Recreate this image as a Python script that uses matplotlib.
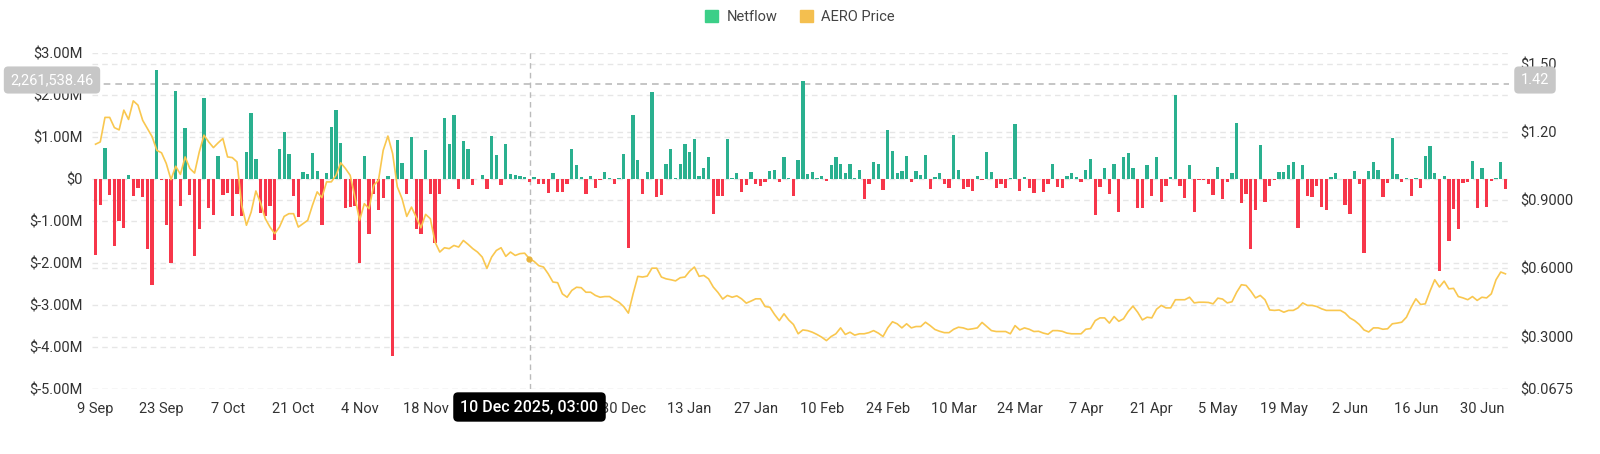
import numpy as np
import pandas as pd
import matplotlib
matplotlib.use("Agg")
import matplotlib.pyplot as plt
import matplotlib.dates as mdates
import matplotlib.transforms as mtransforms
from matplotlib.patches import Patch

# daily netflow, millions USD, starting 9 Sep 2025
netflow = [
    -1.81, -0.63, 0.74, -0.39, -1.59, -1.00, -1.17, 0.10, -0.40, -0.21,
    -0.42, -1.67, -2.52, 2.60, -0.02, -1.09, -2.00, 2.09, -0.65, 1.20,
    -0.38, -1.84, -1.19, 1.92, -0.70, -0.86, 0.54, -0.39, -0.33, -0.89,
    -0.35, -0.87, 0.63, 1.56, 0.47, -0.81, -0.89, -0.65, -1.46, 0.70,
    1.11, 0.59, -0.40, -0.91, 0.16, 0.12, 0.61, 0.18, -1.10, 0.13,
    1.23, 1.64, 0.85, -0.69, -0.66, -0.65, -2.00, 0.54, -1.31, -0.37,
    -0.74, -0.46, 0.07, -4.21, 0.93, 0.37, -0.35, 1.00, -1.20, -1.32,
    0.69, -0.36, -1.53, -0.36, 1.45, 0.82, 1.53, -0.23, 0.89, 0.72,
    -0.15, 0.00, 0.09, -0.25, 1.03, 0.56, -0.15, 0.83, 0.11, 0.10,
    0.06, 0.05, -0.08, 0.05, -0.13, -0.13, -0.33, 0.13, -0.32, -0.32,
    -0.11, 0.70, 0.32, 0.04, -0.35, 0.08, -0.21, -0.02, 0.17, 0.03,
    -0.13, 0.02, 0.60, -1.63, 1.52, 0.45, -0.35, 0.16, 2.07, -0.44,
    -0.38, 0.36, 0.70, 0.02, 0.35, 0.84, 0.64, 0.94, 0.08, 0.26,
    0.51, -0.84, -0.41, -0.40, 0.95, 0.02, 0.14, -0.30, -0.14, 0.17,
    -0.11, -0.16, -0.08, 0.20, 0.21, -0.08, 0.52, 0.03, -0.40, 0.44,
    2.33, 0.11, 0.17, 0.03, 0.08, -0.06, 0.32, 0.51, 0.35, 0.14,
    0.36, 0.03, 0.21, -0.48, -0.11, 0.40, 0.35, -0.27, 1.16, 0.66,
    0.14, 0.18, 0.54, -0.07, 0.18, 0.10, 0.57, -0.25, 0.04, 0.14,
    -0.11, -0.22, 1.05, 0.21, -0.23, -0.19, -0.28, 0.06, -0.03, 0.63,
    0.16, -0.21, -0.12, -0.21, 0.02, 1.31, -0.28, 0.04, -0.22, -0.33,
    0.00, -0.32, -0.13, 0.35, -0.19, -0.21, 0.07, 0.14, 0.05, -0.08,
    0.22, 0.48, -0.86, -0.19, 0.26, -0.35, 0.36, -0.79, 0.51, 0.62,
    0.25, -0.70, -0.70, 0.32, -0.40, 0.51, -0.55, -0.17, 0.05, 2.00,
    -0.17, -0.46, 0.32, -0.78, -0.03, -0.03, -0.11, -0.39, 0.28, -0.48,
    -0.08, 0.13, 1.32, -0.57, -0.35, -1.67, -0.74, 0.80, -0.56, -0.17,
    -0.03, 0.17, 0.17, 0.33, 0.40, -1.16, 0.32, -0.40, -0.42, -0.16,
    -0.66, -0.73, 0.04, 0.13, 0.00, -0.61, -0.84, 0.18, -0.13, -1.77,
    0.18, 0.40, 0.21, -0.44, -0.10, 0.97, 0.12, -0.07, 0.02, -0.40,
    0.02, -0.21, 0.54, 0.78, 0.14, -2.18, 0.08, -1.47, -0.71, -1.18,
    -0.10, -0.08, 0.43, -0.68, 0.25, -0.67, -0.05, 0.03, 0.40, -0.25,
]

# AERO price, USD
price = [
    1.147, 1.157, 1.265, 1.265, 1.220, 1.210, 1.297, 1.256, 1.338, 1.319,
    1.252, 1.216, 1.180, 1.120, 1.109, 1.062, 0.991, 1.050, 1.014, 1.091,
    1.040, 1.020, 1.113, 1.187, 1.157, 1.132, 1.153, 1.172, 1.091, 1.088,
    1.069, 0.878, 0.790, 0.848, 0.941, 0.888, 0.819, 0.782, 0.753, 0.782,
    0.829, 0.841, 0.841, 0.782, 0.797, 0.812, 0.878, 0.937, 0.912, 0.981,
    0.981, 1.010, 1.065, 1.040, 1.010, 0.915, 0.812, 0.885, 0.863, 0.966,
    0.988, 1.120, 1.183, 1.106, 0.959, 0.907, 0.829, 0.870, 0.826, 0.779,
    0.838, 0.819, 0.716, 0.672, 0.691, 0.687, 0.701, 0.694, 0.723, 0.706,
    0.687, 0.672, 0.650, 0.600, 0.650, 0.679, 0.691, 0.653, 0.672, 0.657,
    0.665, 0.667, 0.643, 0.631, 0.612, 0.606, 0.576, 0.540, 0.537, 0.488,
    0.473, 0.503, 0.517, 0.515, 0.495, 0.495, 0.481, 0.473, 0.476, 0.476,
    0.462, 0.451, 0.432, 0.403, 0.488, 0.565, 0.562, 0.566, 0.601, 0.601,
    0.562, 0.554, 0.550, 0.545, 0.559, 0.562, 0.588, 0.606, 0.565, 0.569,
    0.554, 0.518, 0.494, 0.465, 0.481, 0.473, 0.479, 0.466, 0.447, 0.456,
    0.466, 0.466, 0.432, 0.429, 0.397, 0.370, 0.400, 0.373, 0.353, 0.312,
    0.329, 0.326, 0.319, 0.309, 0.297, 0.282, 0.300, 0.312, 0.338, 0.309,
    0.319, 0.306, 0.312, 0.312, 0.317, 0.326, 0.315, 0.300, 0.338, 0.365,
    0.356, 0.338, 0.356, 0.338, 0.344, 0.344, 0.363, 0.348, 0.331, 0.323,
    0.317, 0.317, 0.332, 0.341, 0.338, 0.331, 0.334, 0.338, 0.362, 0.344,
    0.326, 0.322, 0.322, 0.322, 0.312, 0.348, 0.329, 0.338, 0.332, 0.322,
    0.323, 0.315, 0.310, 0.326, 0.326, 0.323, 0.315, 0.312, 0.312, 0.312,
    0.332, 0.335, 0.370, 0.382, 0.382, 0.359, 0.388, 0.367, 0.378, 0.410,
    0.434, 0.407, 0.373, 0.385, 0.382, 0.420, 0.437, 0.426, 0.426, 0.462,
    0.462, 0.462, 0.473, 0.448, 0.451, 0.451, 0.450, 0.444, 0.469, 0.465,
    0.448, 0.453, 0.495, 0.528, 0.525, 0.500, 0.470, 0.481, 0.462, 0.417,
    0.415, 0.417, 0.407, 0.415, 0.415, 0.426, 0.448, 0.437, 0.437, 0.432,
    0.422, 0.415, 0.415, 0.415, 0.415, 0.403, 0.382, 0.370, 0.353, 0.329,
    0.320, 0.338, 0.338, 0.332, 0.334, 0.356, 0.359, 0.363, 0.385, 0.429,
    0.466, 0.441, 0.444, 0.500, 0.550, 0.518, 0.544, 0.510, 0.512, 0.476,
    0.470, 0.462, 0.476, 0.459, 0.473, 0.470, 0.488, 0.550, 0.584, 0.576,
]

dates = pd.date_range("2025-09-09", periods=len(netflow), freq="D")

left_ticks = [3, 2, 1, 0, -1, -2, -3, -4, -5]
price_ticks = [0.0675, 0.3, 0.6, 0.9, 1.2, 1.5]
price_labels = ["$0.0675", "$0.3000", "$0.6000", "$0.9000", "$1.20", "$1.50"]

cross_date = pd.Timestamp("2025-12-10 03:00")
cross_flow = 2261538.46
cross_price = 1.42

GREEN = "#2AB08F"
RED = "#F7364A"
YELLOW = "#F9C74F"
GRID = "#E6E6E6"
TEXT = "#333333"

plt.rcParams["font.family"] = ["Roboto", "DejaVu Sans"]

W, H = 1600, 454
fig = plt.figure(figsize=(W / 100, H / 100), dpi=100)
ax = fig.add_axes([92 / W, (H - 389.3) / H, 1417 / W, 336.6 / H])
ax2 = ax.twinx()

flow = np.array(netflow)
colors = [GREEN if v >= 0 else RED for v in flow]
ax.bar(dates, flow, width=0.7, color=colors, zorder=3)

ax2.plot(dates, price, color=YELLOW, lw=1.2, zorder=4)
ax2.plot(dates[92], price[92], "o", color="#E8B33C", ms=3.5, zorder=5)

ax.set_ylim(-5, 3)
ax2.set_ylim(0.0675, 1.55)
ax.set_xlim(dates[0] - pd.Timedelta(hours=18), dates[-1] + pd.Timedelta(hours=18))

ax.set_yticks(left_ticks)
ax.set_yticklabels(["$0" if t == 0 else f"${t:.2f}M" for t in left_ticks])
ax2.set_yticks(price_ticks)
ax2.set_yticklabels(price_labels)

# fortnightly date ticks; the two under the crosshair date box are not shown
xt = [d for d in dates[::14]]
hidden = [pd.Timestamp("2025-12-02"), pd.Timestamp("2025-12-16")]
ax.set_xticks(xt)
ax.set_xticklabels(["" if d in hidden else f"{d.day} {d.strftime('%b')}" for d in xt])

# dashed gridlines for both scales, kept behind the bars
for t in left_ticks:
    ax.axhline(t, color=GRID, lw=1, ls=(0, (4, 3)), zorder=1)
blend = mtransforms.blended_transform_factory(ax.transAxes, ax2.transData)
for t in price_ticks:
    ax.plot([0, 1], [t, t], transform=blend, color=GRID, lw=1, ls=(0, (4, 3)), zorder=1)

for a in (ax, ax2):
    for s in a.spines.values():
        s.set_visible(False)
    a.tick_params(length=0, labelsize=10.5, labelcolor=TEXT)
ax.tick_params(axis="y", pad=7)
ax.tick_params(axis="x", pad=9)
ax2.tick_params(axis="y", pad=8)

# crosshair
ax.axvline(cross_date, color="#BBBBBB", lw=1, ls=(0, (4, 3)), zorder=2)
ax.axhline(cross_flow / 1e6, color="#BBBBBB", lw=1.2, ls=(0, (4, 3)), zorder=2)

fig.text(52 / W, 1 - 80 / H, f"{cross_flow:,.2f}", ha="center", va="center",
         color="white", fontsize=10.5,
         bbox=dict(boxstyle="round,pad=0.45,rounding_size=0.3", fc="#C7C7C7", ec="none"))
fig.text(1535 / W, 1 - 80 / H, f"{cross_price:.2f}", ha="center", va="center",
         color="white", fontsize=10.5,
         bbox=dict(boxstyle="round,pad=0.45,rounding_size=0.3", fc="#C7C7C7", ec="none"))
fig.text(529.5 / W, 1 - 407 / H, cross_date.strftime("%-d %b %Y, %H:%M"),
         ha="center", va="center", color="white", fontsize=11.5, fontweight="medium",
         bbox=dict(boxstyle="round,pad=0.45,rounding_size=0.3", fc="black", ec="none"))

handles = [Patch(color="#3CCF88", label="Netflow"), Patch(color="#F4BF4F", label="AERO Price")]
fig.legend(handles=handles, loc="center", bbox_to_anchor=(0.5, 1 - 17 / H), ncol=2,
           frameon=False, fontsize=10.5, handlelength=0.9, handleheight=0.9,
           handletextpad=0.6, columnspacing=1.5, labelcolor="#444444")

fig.savefig("out.png", dpi=100)
